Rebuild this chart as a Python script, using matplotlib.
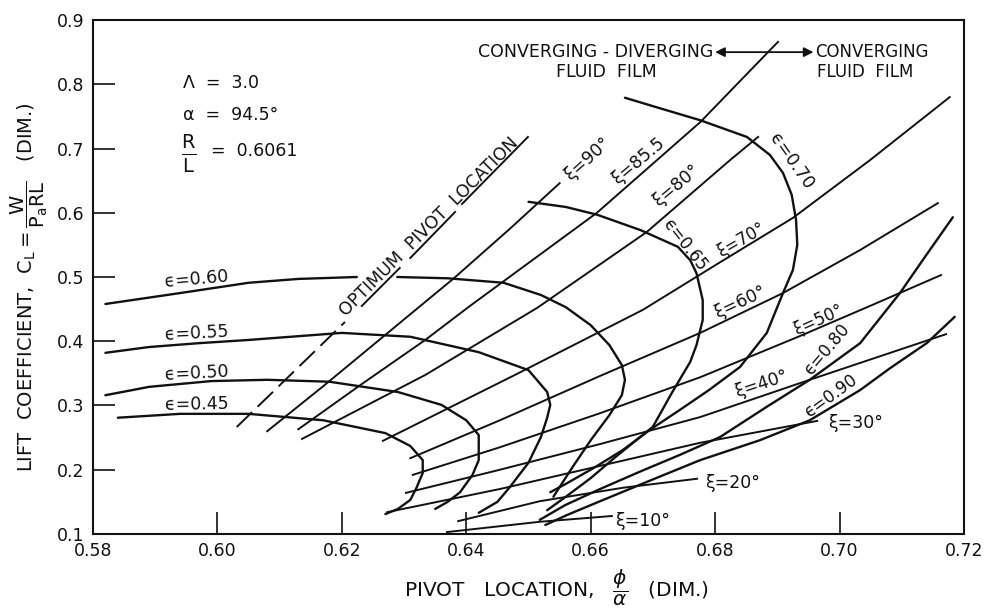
import matplotlib
matplotlib.use("Agg")
import matplotlib.pyplot as plt

plt.rcParams['font.family'] = ['DejaVu Sans']
plt.rcParams['mathtext.fontset'] = 'dejavusans'

INK = '#111111'

# ---- constant-eccentricity curves: pivot location (phi/alpha) vs lift coefficient
eps045_x = [0.584, 0.594, 0.605, 0.617, 0.627, 0.631, 0.633, 0.633, 0.632, 0.631, 0.629, 0.627]
eps045_y = [0.281, 0.287, 0.287, 0.277, 0.257, 0.237, 0.215, 0.195, 0.172, 0.153, 0.139, 0.131]

eps050_x = [0.582, 0.589, 0.599, 0.608, 0.618, 0.629, 0.636, 0.640, 0.642, 0.642, 0.642, 0.641, 0.639, 0.637, 0.635]
eps050_y = [0.316, 0.329, 0.338, 0.340, 0.337, 0.321, 0.301, 0.277, 0.254, 0.234, 0.215, 0.192, 0.165, 0.150, 0.139]

eps055_x = [0.582, 0.589, 0.597, 0.605, 0.620, 0.631, 0.642, 0.650, 0.653, 0.6535, 0.653, 0.652, 0.650, 0.647, 0.645, 0.642]
eps055_y = [0.382, 0.391, 0.397, 0.402, 0.413, 0.407, 0.383, 0.355, 0.321, 0.301, 0.281, 0.251, 0.211, 0.173, 0.150, 0.133]

# the 0.60 curve is broken where the optimum-pivot lettering crosses it
eps060_left_x = [0.582, 0.594, 0.605, 0.613, 0.6224]
eps060_left_y = [0.458, 0.475, 0.491, 0.497, 0.500]
eps060_right_x = [0.6289, 0.637, 0.646, 0.652, 0.656, 0.660, 0.663, 0.665, 0.6655,
                  0.665, 0.663, 0.660, 0.657, 0.654]
eps060_right_y = [0.500, 0.498, 0.491, 0.472, 0.453, 0.425, 0.394, 0.363, 0.340,
                  0.316, 0.285, 0.246, 0.203, 0.158]

eps065_x = [0.650, 0.656, 0.661, 0.668, 0.674, 0.676, 0.677, 0.678, 0.678, 0.677, 0.676, 0.673, 0.670, 0.664,
            0.660, 0.656, 0.653]
eps065_y = [0.617, 0.609, 0.597, 0.573, 0.547, 0.526, 0.506, 0.464, 0.433, 0.394, 0.368, 0.319, 0.267, 0.220,
            0.187, 0.158, 0.137]

eps070_x = [0.6655, 0.671, 0.6776, 0.6851, 0.6888, 0.6909, 0.6923, 0.6930, 0.6932, 0.6925, 0.6909, 0.6883,
            0.684, 0.679, 0.6743, 0.6695, 0.6652, 0.6607, 0.656, 0.6535]
eps070_y = [0.779, 0.763, 0.744, 0.718, 0.690, 0.662, 0.628, 0.589, 0.550, 0.511, 0.475, 0.413,
            0.360, 0.324, 0.293, 0.262, 0.231, 0.204, 0.178, 0.165]

eps080_x = [0.7182, 0.7137, 0.7097, 0.7033, 0.6952, 0.6883, 0.6808, 0.6743, 0.6679, 0.6615, 0.6559, 0.6518]
eps080_y = [0.593, 0.531, 0.475, 0.397, 0.340, 0.298, 0.251, 0.223, 0.197, 0.170, 0.145, 0.122]

eps090_x = [0.7185, 0.714, 0.7081, 0.7033, 0.6952, 0.6872, 0.6776, 0.6695, 0.6615, 0.6563, 0.6527]
eps090_y = [0.438, 0.397, 0.358, 0.324, 0.277, 0.246, 0.215, 0.183, 0.151, 0.130, 0.114]

# ---- constant pivot-angle lines
xi90_x = [0.608, 0.617, 0.626, 0.638, 0.647, 0.655]
xi90_y = [0.260, 0.330, 0.402, 0.498, 0.575, 0.646]

xi855_x = [0.613, 0.623, 0.6334, 0.6406, 0.661, 0.6776, 0.6901]
xi855_y = [0.263, 0.332, 0.402, 0.455, 0.600, 0.741, 0.866]

xi80_x = [0.6136, 0.6334, 0.6514, 0.669, 0.6824, 0.6869]
xi80_y = [0.248, 0.3475, 0.452, 0.570, 0.682, 0.718]

xi70_x = [0.6266, 0.6475, 0.6684, 0.6808, 0.6925, 0.7049, 0.7177]
xi70_y = [0.245, 0.346, 0.449, 0.523, 0.592, 0.682, 0.780]

xi60_x = [0.631, 0.6454, 0.6615, 0.6776, 0.6909, 0.7033, 0.7158]
xi60_y = [0.218, 0.277, 0.346, 0.413, 0.475, 0.542, 0.615]

xi50_x = [0.6314, 0.6454, 0.6615, 0.6776, 0.6936, 0.7049, 0.7163]
xi50_y = [0.192, 0.235, 0.288, 0.344, 0.408, 0.455, 0.503]

xi40_x = [0.6303, 0.6454, 0.6615, 0.6776, 0.6952, 0.7171]
xi40_y = [0.164, 0.200, 0.240, 0.282, 0.340, 0.411]

xi30_x = [0.6273, 0.6454, 0.6615, 0.6776, 0.6964]
xi30_y = [0.134, 0.170, 0.206, 0.242, 0.276]

xi20_x = [0.6387, 0.6518, 0.6652, 0.6771]
xi20_y = [0.120, 0.151, 0.172, 0.186]

xi10_x = [0.6369, 0.6518, 0.6634]
xi10_y = [0.103, 0.119, 0.128]

# ---- optimum pivot location line (dashed part, then underline pieces)
opt_dash_x = [0.6031, 0.6205]
opt_dash_y = [0.2665, 0.430]
opt_under_x = [[0.6232, 0.6293], [0.6310, 0.6382], [0.6393, 0.6499]]
opt_under_y = [[0.4549, 0.5140], [0.5296, 0.6012], [0.6136, 0.7179]]

# ---- tick labels
x_ticks = [0.58, 0.60, 0.62, 0.64, 0.66, 0.68, 0.70, 0.72]
x_tick_labels = ['0.58', '0.60', '0.62', '0.64', '0.66', '0.68', '0.70', '0.72']
y_ticks = [0.1, 0.2, 0.3, 0.4, 0.5, 0.6, 0.7, 0.8, 0.9]
y_tick_labels = ['0.1', '0.2', '0.3', '0.4', '0.5', '0.6', '0.7', '0.8', '0.9']

# ---- curve labels: text, x, y, rotation, size
EPS = '\u03f5'
curve_labels = [
    (EPS + '=0.60', 0.5966, 0.4960, 5, 12.5),
    (EPS + '=0.55', 0.5966, 0.4120, 3, 12.5),
    (EPS + '=0.50', 0.5966, 0.3495, 3, 12.5),
    (EPS + '=0.45', 0.5967, 0.3010, 1, 12.5),
    (EPS + '=0.65', 0.6752, 0.5500, -52, 12),
    (EPS + '=0.70', 0.6922, 0.6800, -55, 12.5),
    (EPS + '=0.80', 0.6979, 0.3870, 50, 12),
    (EPS + '=0.90', 0.6986, 0.3140, 36, 12),
    ('\u03be=90\u00b0', 0.6595, 0.6840, 42, 12.5),
    ('\u03be=85.5', 0.6676, 0.6800, 40, 12.5),
    ('\u03be=80\u00b0', 0.6737, 0.6430, 40, 12.5),
    ('\u03be=70\u00b0', 0.6842, 0.5580, 30, 12),
    ('\u03be=60\u00b0', 0.6840, 0.4610, 25, 12.5),
    ('\u03be=50\u00b0', 0.6966, 0.4330, 24, 12),
    ('\u03be=40\u00b0', 0.6875, 0.3330, 18, 12.5),
    ('\u03be=30\u00b0', 0.7025, 0.2728, 0, 12.5),
    ('\u03be=20\u00b0', 0.6828, 0.1794, 0, 12.5),
    ('\u03be=10\u00b0', 0.6684, 0.1202, 0, 12.5),
]

fig = plt.figure(figsize=(9.84, 6.10), dpi=100)
fig.patch.set_facecolor('white')
ax = fig.add_axes([0.0945, 0.1246, 0.8852, 0.8426])
ax.set_xlim(0.58, 0.72)
ax.set_ylim(0.1, 0.9)

eps_curves = [(eps045_x, eps045_y), (eps050_x, eps050_y), (eps055_x, eps055_y),
              (eps060_left_x, eps060_left_y), (eps060_right_x, eps060_right_y),
              (eps065_x, eps065_y), (eps070_x, eps070_y), (eps080_x, eps080_y), (eps090_x, eps090_y)]
xi_lines = [(xi90_x, xi90_y), (xi855_x, xi855_y), (xi80_x, xi80_y), (xi70_x, xi70_y), (xi60_x, xi60_y),
            (xi50_x, xi50_y), (xi40_x, xi40_y), (xi30_x, xi30_y), (xi20_x, xi20_y), (xi10_x, xi10_y)]

for cx, cy in eps_curves:
    ax.plot(cx, cy, color=INK, lw=1.7, solid_joinstyle='round', solid_capstyle='round', zorder=2)
for lx, ly in xi_lines:
    ax.plot(lx, ly, color=INK, lw=1.4, solid_joinstyle='round', zorder=2)

ax.plot(opt_dash_x, opt_dash_y, color=INK, lw=1.4, linestyle=(0, (11, 4)), zorder=2)
for ux, uy in zip(opt_under_x, opt_under_y):
    ax.plot(ux, uy, color=INK, lw=1.4, zorder=2)
ax.text(0.6207, 0.438, 'OPTIMUM  PIVOT  LOCATION', rotation=45, rotation_mode='anchor',
        ha='left', va='baseline', fontsize=12.5, color=INK, zorder=5)

for txt, tx, ty, rot, fs in curve_labels:
    ax.text(tx, ty, txt, rotation=rot, rotation_mode='anchor', ha='center', va='center',
            fontsize=fs, color=INK, zorder=4)

# parameters
ax.text(0.5945, 0.802, '\u039b  =  3.0', fontsize=12.5, color=INK, va='center', ha='left')
ax.text(0.5945, 0.752, '\u03b1  =  94.5\u00b0', fontsize=12.5, color=INK, va='center', ha='left')
ax.text(0.5942, 0.691, r'$\frac{\mathrm{R}}{\mathrm{L}}$', fontsize=20, color=INK, va='center', ha='left')
ax.text(0.5990, 0.696, '=  0.6061', fontsize=12.5, color=INK, va='center', ha='left')

# film regime annotation
ax.text(0.6797, 0.850, 'CONVERGING - DIVERGING', fontsize=12.5, color=INK, ha='right', va='center')
ax.text(0.6625, 0.819, 'FLUID  FILM', fontsize=12.5, color=INK, ha='center', va='center')
ax.text(0.6960, 0.850, 'CONVERGING', fontsize=12, color=INK, ha='left', va='center')
ax.text(0.6964, 0.819, 'FLUID  FILM', fontsize=12, color=INK, ha='left', va='center')
ax.annotate('', xy=(0.6958, 0.850), xytext=(0.6800, 0.850),
            arrowprops=dict(arrowstyle='<|-|>', color=INK, lw=1.3, mutation_scale=14,
                            shrinkA=0, shrinkB=0))

# axes styling
for side in ['left', 'right', 'top', 'bottom']:
    ax.spines[side].set_linewidth(1.5)
    ax.spines[side].set_color(INK)
ax.set_xticks(x_ticks)
ax.set_xticklabels(x_tick_labels)
ax.set_yticks(y_ticks)
ax.set_yticklabels(y_tick_labels)
ax.tick_params(axis='both', direction='in', length=16, width=1.2, colors=INK, labelsize=12.5)
ax.tick_params(axis='x', pad=6)
ax.tick_params(axis='y', pad=6)

fig.text(0.566, 0.036, r'PIVOT   LOCATION,   $\dfrac{\phi}{\alpha}$   (DIM.)', fontsize=14.5, color=INK,
         ha='center', va='center')
fig.text(0.030, 0.530, r'LIFT  COEFFICIENT,  $\mathrm{C_L}=\dfrac{\mathrm{W}}{\mathrm{P_a RL}}$   (DIM.)',
         fontsize=14, color=INK, ha='center', va='center', rotation=90)

fig.savefig('out.png', dpi=100, facecolor='white')
